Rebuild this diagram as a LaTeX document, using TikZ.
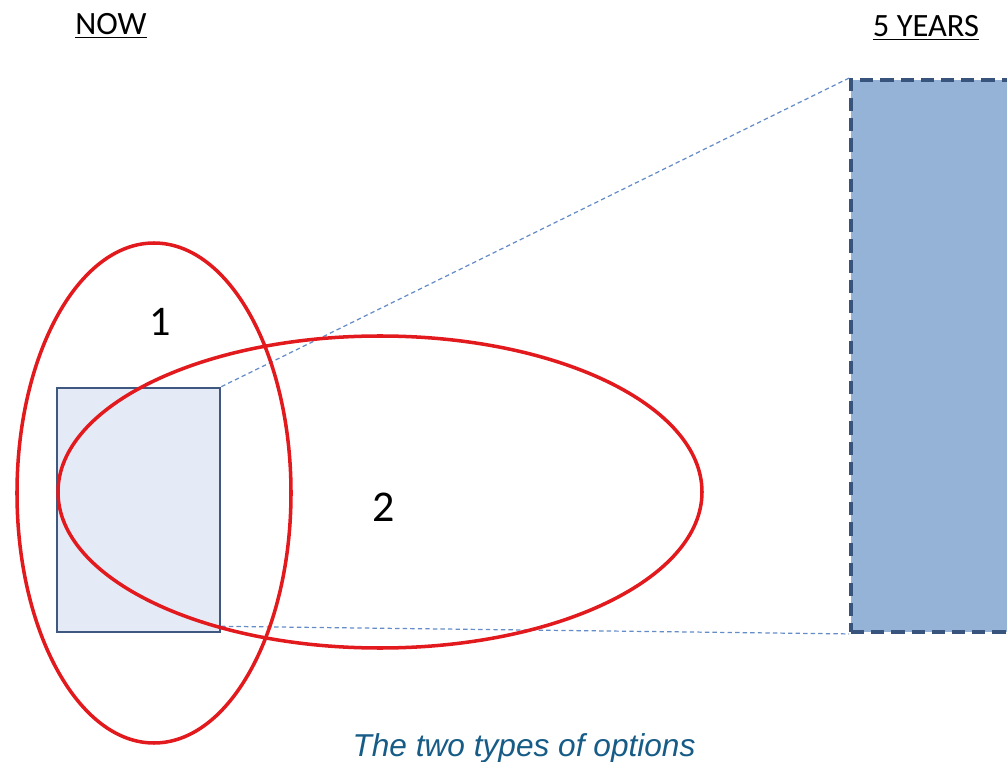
\documentclass[tikz,border=0pt]{standalone}
\usepackage{fontspec}
\setmainfont{Carlito}
\newfontfamily\capfont{Liberation Sans}
\usepackage{xcolor}
\usepackage{tikz}
\usetikzlibrary{calc}

\definecolor{optred}{RGB}{226,26,30}
\definecolor{boxedge}{RGB}{62,88,128}
\definecolor{boxfill}{RGB}{229,235,246}
\definecolor{bigfill}{RGB}{149,179,215}
\definecolor{bigedge}{RGB}{56,84,125}
\definecolor{guide}{RGB}{100,140,200}
\definecolor{capblue}{RGB}{22,92,135}

\begin{document}
\begin{tikzpicture}[x=0.2mm,y=-0.2mm,
  head/.style={font=\fontsize{18.5}{22}\selectfont,anchor=base},
  optline/.style={optred,line width=2pt},
  guideline/.style={guide,line width=0.7pt,dash pattern=on 2.5pt off 1.8pt}]
\useasboundingbox (0,0) rectangle (1007,762);
\clip (0,0) rectangle (1007,762);
% headings
\node[head] (now) at (111,35) {\underline{NOW}};
\node[head] (later) at (926,37) {\underline{5 YEARS}};
% boxes
\node[draw=boxedge,fill=boxfill,line width=1.5pt,inner sep=0pt,
  minimum width=32.6mm,minimum height=48.8mm] (nowbox) at (138.5,510) {};
\node[draw=bigedge,fill=bigfill,line width=2.2pt,inner sep=0pt,
  dash pattern=on 7.5pt off 4pt,
  minimum width=40mm,minimum height=110.4mm] (bigbox) at (951,356) {};
\coordinate (low) at ($(nowbox.south east)+(0,-7)$);
\draw[guideline] (nowbox.north east) -- (bigbox.north west);
\draw[guideline] (low) -- (bigbox.south west);
% the two options
\draw[optline] (154,493) ellipse [x radius=137,y radius=250];
\draw[optline] (380,492) ellipse [x radius=322,y radius=156];
\node[font=\fontsize{24}{28}\selectfont,anchor=base] (one) at (160,336) {1};
\node[font=\fontsize{25}{29}\selectfont,anchor=base] (two) at (384,522) {2};
\node[font=\capfont\itshape\fontsize{18}{22}\selectfont,text=capblue,anchor=base] (caption) at (524,756) {The two types of options};
\end{tikzpicture}
\end{document}
